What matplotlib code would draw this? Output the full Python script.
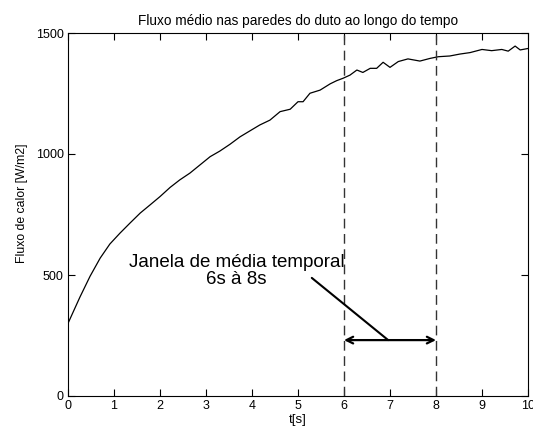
import matplotlib
matplotlib.use("Agg")
import matplotlib.pyplot as plt

plt.rcParams['font.family'] = ['Liberation Sans', 'DejaVu Sans']

# Mean wall heat flux over time
t_s = [0.0, 0.10, 0.26, 0.48, 0.70, 0.91, 1.13, 1.35, 1.57, 1.78, 2.00, 2.22,
       2.43, 2.65, 2.87, 3.09, 3.30, 3.52, 3.74, 3.95, 4.17, 4.39, 4.61, 4.83,
       5.00, 5.11, 5.26, 5.48, 5.70, 5.84, 5.98, 6.13, 6.28, 6.41, 6.57, 6.71,
       6.85, 7.00, 7.18, 7.39, 7.65, 7.87, 8.05, 8.30, 8.52, 8.74, 9.00, 9.21,
       9.43, 9.57, 9.72, 9.83, 10.0]
flux = [300, 342, 409, 495, 570, 628, 673, 715, 756, 789, 824, 862,
        893, 921, 955, 989, 1012, 1040, 1071, 1095, 1120, 1140, 1175, 1185,
        1216, 1216, 1251, 1264, 1290, 1303, 1313, 1326, 1347, 1337, 1354, 1354,
        1379, 1358, 1382, 1393, 1384, 1395, 1402, 1405, 1413, 1419, 1432, 1427,
        1432, 1425, 1446, 1430, 1436]

x_ticks = [0, 1, 2, 3, 4, 5, 6, 7, 8, 9, 10]
y_ticks = [0, 500, 1000, 1500]
window = [6, 8]
arrow_level = 231
note_text = "Janela de média temporal\n6s à 8s"
note_pos = (3.66, 516)
pointer_start = (5.30, 488)
pointer_end = (6.96, 231)

fig = plt.figure(figsize=(5.33, 4.34), dpi=100)
ax = fig.add_axes([68/533, 38/434, 460/533, 363/434])

ax.plot(t_s, flux, color='black', linewidth=0.9)

for xv in window:
    ax.axvline(xv, color='#333333', linewidth=1.0, linestyle=(0, (7, 4)))

ax.annotate('', xy=(window[0], arrow_level), xytext=(window[1], arrow_level),
            arrowprops=dict(arrowstyle='<->', color='black', lw=1.6,
                            mutation_scale=12, shrinkA=0, shrinkB=0))
ax.annotate('', xy=pointer_end, xytext=pointer_start,
            arrowprops=dict(arrowstyle='-', color='black', lw=1.5,
                            shrinkA=0, shrinkB=0))
ax.text(note_pos[0], note_pos[1], note_text, ha='center', va='center',
        fontsize=13.5, linespacing=1.05, color='black')

ax.set_xlim(0, 10)
ax.set_ylim(0, 1500)
ax.set_xticks(x_ticks)
ax.set_yticks(y_ticks)
ax.tick_params(direction='in', length=5, width=0.8, top=True, right=True,
               labelsize=9, pad=3, colors='black')
for sp in ax.spines.values():
    sp.set_linewidth(0.8)

ax.set_title("Fluxo médio nas paredes do duto ao longo do tempo", fontsize=9.8, pad=6)
ax.set_xlabel("t[s]", fontsize=9.5, labelpad=1)
ax.set_ylabel("Fluxo de calor [W/m2]", fontsize=8.8)
ax.yaxis.set_label_coords(-0.088, 0.53)

fig.savefig("out.png", dpi=100)
